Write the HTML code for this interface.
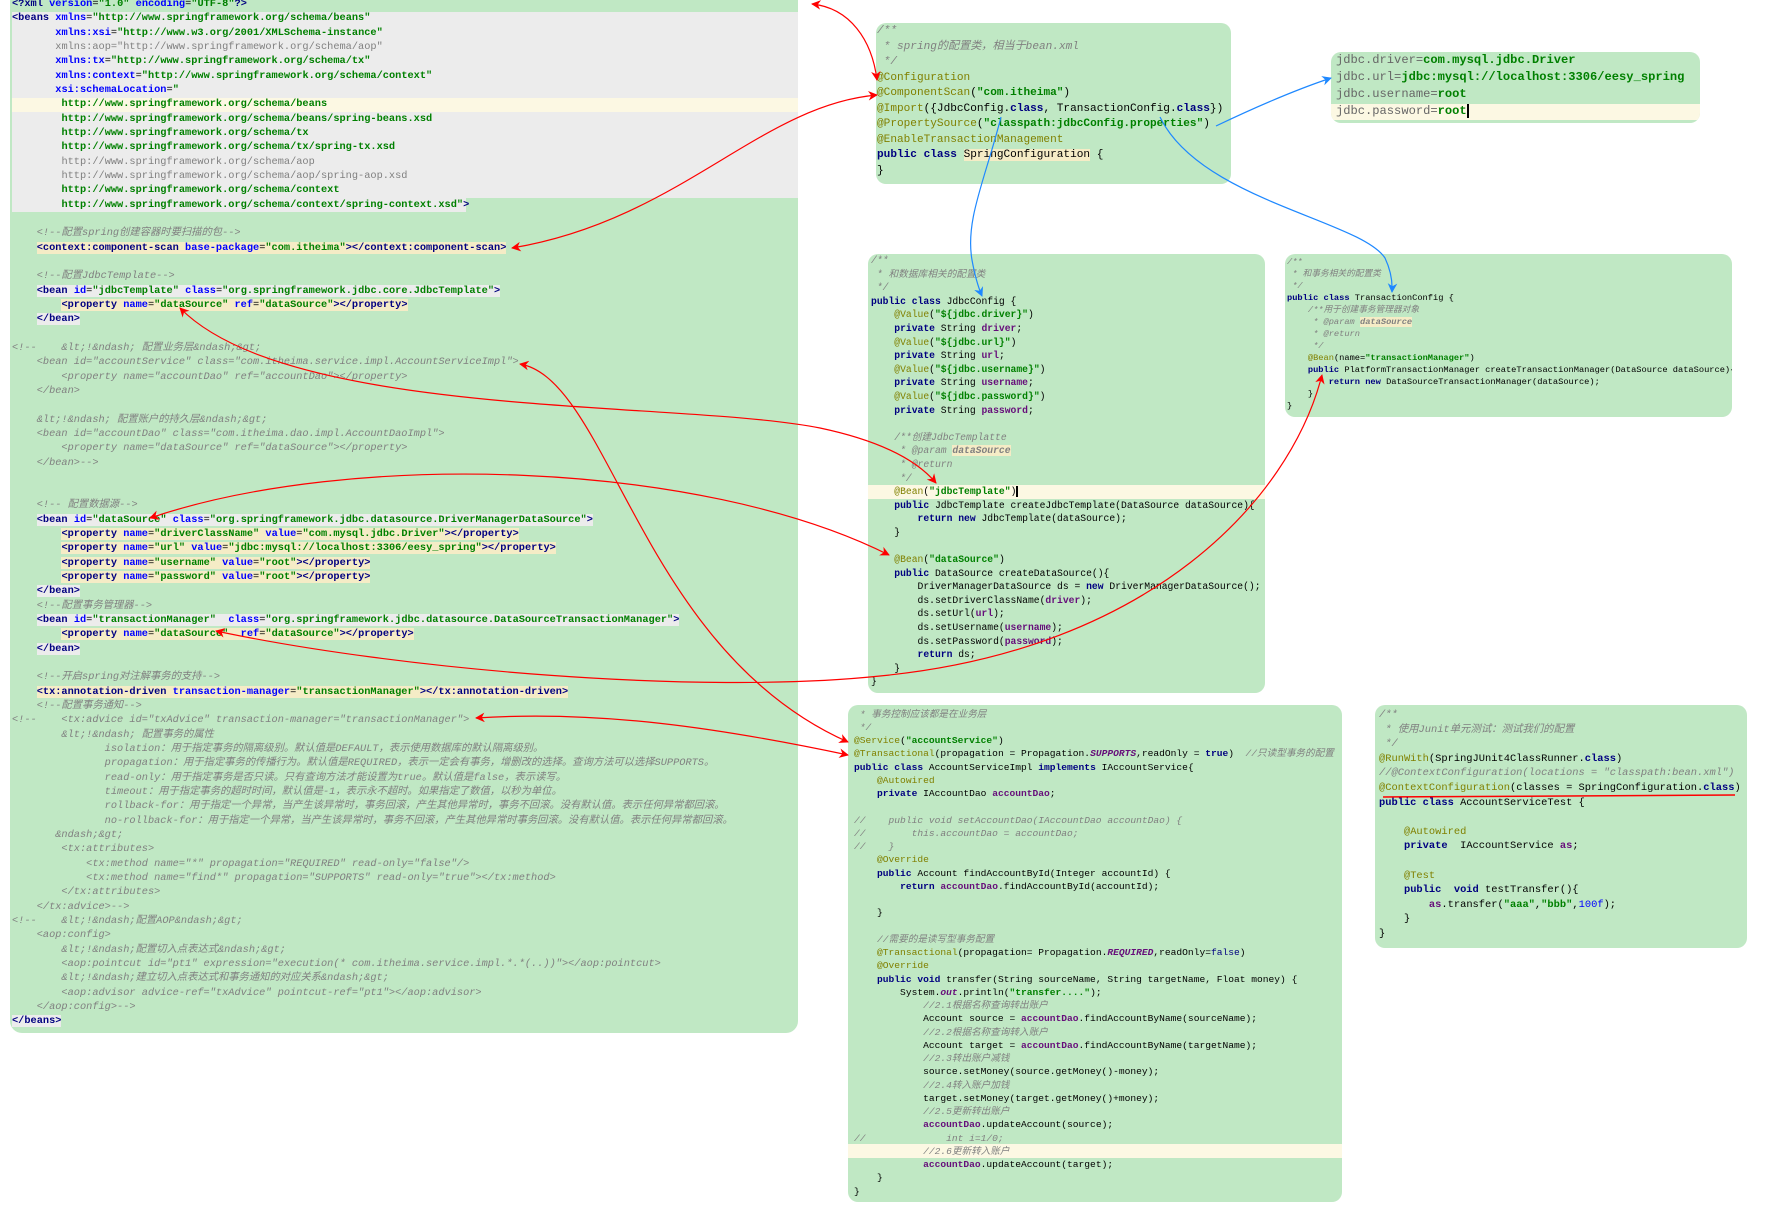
<!DOCTYPE html>
<html><head><meta charset="utf-8">
<style>
html,body{margin:0;padding:0;background:#fff;width:1779px;height:1205px;overflow:hidden;position:relative}
.p{position:absolute;background:#c0e8c4;border-radius:10px;overflow:hidden}
pre{position:absolute;margin:0;font-family:"Liberation Mono","Noto Sans CJK SC",monospace;color:#000;white-space:pre}
.t{color:#000080;font-weight:bold}
.a{color:#0000ff;font-weight:bold}
.v{color:#008000;font-weight:bold}
.c{color:#808080;font-style:italic}
.k{color:#000080;font-weight:bold}
.n{color:#808000}
.s{color:#008000;font-weight:bold}
.f{color:#660e7a;font-weight:bold}
.h{background:#f5ecc6}
.g{background:#ececec}
.y{position:absolute;background:#fcf8e3}
</style></head><body>

<!-- LEFT XML PANEL -->
<div class="p" style="left:10px;top:0;width:788px;height:1033px;border-radius:0 0 12px 12px">
<div style="position:absolute;left:2px;top:12px;width:786px;height:186px;background:#ececec"></div>
<div style="position:absolute;left:2px;top:198px;width:454px;height:14px;background:#ececec"></div>
<div class="y" style="left:2px;top:98px;width:786px;height:14px"></div>
<pre style="left:2px;top:-3px;font-size:10.3px;line-height:14.33px"><span class="t">&lt;?xml</span> <span class="a">version</span>=<span class="v">"1.0"</span> <span class="a">encoding</span>=<span class="v">"UTF-8"</span><span class="t">?&gt;</span>
<span class="t">&lt;beans</span> <span class="a">xmlns</span>=<span class="v">"http://www.springframework.org/schema/beans"</span>
       <span class="a">xmlns:xsi</span>=<span class="v">"http://www.w3.org/2001/XMLSchema-instance"</span>
       <span class="c" style="font-style:normal">xmlns:aop="http://www.springframework.org/schema/aop"</span>
       <span class="a">xmlns:tx</span>=<span class="v">"http://www.springframework.org/schema/tx"</span>
       <span class="a">xmlns:context</span>=<span class="v">"http://www.springframework.org/schema/context"</span>
       <span class="a">xsi:schemaLocation</span>=<span class="v">"</span>
        <span class="v">http://www.springframework.org/schema/beans</span>
        <span class="v">http://www.springframework.org/schema/beans/spring-beans.xsd</span>
        <span class="v">http://www.springframework.org/schema/tx</span>
        <span class="v">http://www.springframework.org/schema/tx/spring-tx.xsd</span>
        <span class="c" style="font-style:normal">http://www.springframework.org/schema/aop</span>
        <span class="c" style="font-style:normal">http://www.springframework.org/schema/aop/spring-aop.xsd</span>
        <span class="v">http://www.springframework.org/schema/context</span>
        <span class="v">http://www.springframework.org/schema/context/spring-context.xsd"</span><span class="t">&gt;</span>

    <span class="c">&lt;!--配置spring创建容器时要扫描的包--&gt;</span>
    <span class="h"><span class="t">&lt;context:component-scan</span> <span class="a">base-package</span>=<span class="v">"com.itheima"</span><span class="t">&gt;&lt;/context:component-scan&gt;</span></span>

    <span class="c">&lt;!--配置JdbcTemplate--&gt;</span>
    <span class="g"><span class="t">&lt;bean</span> <span class="a">id</span>=<span class="v">"jdbcTemplate"</span> <span class="a">class</span>=<span class="v">"org.springframework.jdbc.core.JdbcTemplate"</span><span class="t">&gt;</span></span>
        <span class="h"><span class="t">&lt;property</span> <span class="a">name</span>=<span class="v">"dataSource"</span> <span class="a">ref</span>=<span class="v">"dataSource"</span><span class="t">&gt;&lt;/property&gt;</span></span>
    <span class="g"><span class="t">&lt;/bean&gt;</span></span>

<span class="c">&lt;!--    &amp;lt;!&amp;ndash; 配置业务层&amp;ndash;&amp;gt;</span>
<span class="c">    &lt;bean id="accountService" class="com.itheima.service.impl.AccountServiceImpl"&gt;</span>
<span class="c">        &lt;property name="accountDao" ref="accountDao"&gt;&lt;/property&gt;</span>
<span class="c">    &lt;/bean&gt;</span>

<span class="c">    &amp;lt;!&amp;ndash; 配置账户的持久层&amp;ndash;&amp;gt;</span>
<span class="c">    &lt;bean id="accountDao" class="com.itheima.dao.impl.AccountDaoImpl"&gt;</span>
<span class="c">        &lt;property name="dataSource" ref="dataSource"&gt;&lt;/property&gt;</span>
<span class="c">    &lt;/bean&gt;--&gt;</span>


    <span class="c">&lt;!-- 配置数据源--&gt;</span>
    <span class="g"><span class="t">&lt;bean</span> <span class="a">id</span>=<span class="v">"dataSource"</span> <span class="a">class</span>=<span class="v">"org.springframework.jdbc.datasource.DriverManagerDataSource"</span><span class="t">&gt;</span></span>
        <span class="h"><span class="t">&lt;property</span> <span class="a">name</span>=<span class="v">"driverClassName"</span> <span class="a">value</span>=<span class="v">"com.mysql.jdbc.Driver"</span><span class="t">&gt;&lt;/property&gt;</span></span>
        <span class="h"><span class="t">&lt;property</span> <span class="a">name</span>=<span class="v">"url"</span> <span class="a">value</span>=<span class="v">"jdbc:mysql://localhost:3306/eesy_spring"</span><span class="t">&gt;&lt;/property&gt;</span></span>
        <span class="h"><span class="t">&lt;property</span> <span class="a">name</span>=<span class="v">"username"</span> <span class="a">value</span>=<span class="v">"root"</span><span class="t">&gt;&lt;/property&gt;</span></span>
        <span class="h"><span class="t">&lt;property</span> <span class="a">name</span>=<span class="v">"password"</span> <span class="a">value</span>=<span class="v">"root"</span><span class="t">&gt;&lt;/property&gt;</span></span>
    <span class="g"><span class="t">&lt;/bean&gt;</span></span>
    <span class="c">&lt;!--配置事务管理器--&gt;</span>
    <span class="g"><span class="t">&lt;bean</span> <span class="a">id</span>=<span class="v">"transactionManager"</span>  <span class="a">class</span>=<span class="v">"org.springframework.jdbc.datasource.DataSourceTransactionManager"</span><span class="t">&gt;</span></span>
        <span class="h"><span class="t">&lt;property</span> <span class="a">name</span>=<span class="v">"dataSource"</span>  <span class="a">ref</span>=<span class="v">"dataSource"</span><span class="t">&gt;&lt;/property&gt;</span></span>
    <span class="g"><span class="t">&lt;/bean&gt;</span></span>

    <span class="c">&lt;!--开启spring对注解事务的支持--&gt;</span>
    <span class="h"><span class="t">&lt;tx:annotation-driven</span> <span class="a">transaction-manager</span>=<span class="v">"transactionManager"</span><span class="t">&gt;&lt;/tx:annotation-driven&gt;</span></span>
    <span class="c">&lt;!--配置事务通知--&gt;</span>
<span class="c">&lt;!--    &lt;tx:advice id="txAdvice" transaction-manager="transactionManager"&gt;</span>
<span class="c">        &amp;lt;!&amp;ndash; 配置事务的属性</span>
<span class="c">               isolation：用于指定事务的隔离级别。默认值是DEFAULT，表示使用数据库的默认隔离级别。</span>
<span class="c">               propagation：用于指定事务的传播行为。默认值是REQUIRED，表示一定会有事务，增删改的选择。查询方法可以选择SUPPORTS。</span>
<span class="c">               read-only：用于指定事务是否只读。只有查询方法才能设置为true。默认值是false，表示读写。</span>
<span class="c">               timeout：用于指定事务的超时时间，默认值是-1，表示永不超时。如果指定了数值，以秒为单位。</span>
<span class="c">               rollback-for：用于指定一个异常，当产生该异常时，事务回滚，产生其他异常时，事务不回滚。没有默认值。表示任何异常都回滚。</span>
<span class="c">               no-rollback-for：用于指定一个异常，当产生该异常时，事务不回滚，产生其他异常时事务回滚。没有默认值。表示任何异常都回滚。</span>
<span class="c">       &amp;ndash;&amp;gt;</span>
<span class="c">        &lt;tx:attributes&gt;</span>
<span class="c">            &lt;tx:method name="*" propagation="REQUIRED" read-only="false"/&gt;</span>
<span class="c">            &lt;tx:method name="find*" propagation="SUPPORTS" read-only="true"&gt;&lt;/tx:method&gt;</span>
<span class="c">        &lt;/tx:attributes&gt;</span>
<span class="c">    &lt;/tx:advice&gt;--&gt;</span>
<span class="c">&lt;!--    &amp;lt;!&amp;ndash;配置AOP&amp;ndash;&amp;gt;</span>
<span class="c">    &lt;aop:config&gt;</span>
<span class="c">        &amp;lt;!&amp;ndash;配置切入点表达式&amp;ndash;&amp;gt;</span>
<span class="c">        &lt;aop:pointcut id="pt1" expression="execution(* com.itheima.service.impl.*.*(..))"&gt;&lt;/aop:pointcut&gt;</span>
<span class="c">        &amp;lt;!&amp;ndash;建立切入点表达式和事务通知的对应关系&amp;ndash;&amp;gt;</span>
<span class="c">        &lt;aop:advisor advice-ref="txAdvice" pointcut-ref="pt1"&gt;&lt;/aop:advisor&gt;</span>
<span class="c">    &lt;/aop:config&gt;--&gt;</span>
<span class="g"><span class="t">&lt;/beans&gt;</span></span></pre>
</div>

<!-- SPRING CONFIGURATION -->
<div class="p" style="left:876px;top:23px;width:355px;height:161px">
<pre style="left:1px;top:1px;font-size:11.1px;line-height:15.5px"><span class="c">/**</span>
<span class="c"> * spring的配置类，相当于bean.xml</span>
<span class="c"> */</span>
<span class="n">@Configuration</span>
<span class="n">@ComponentScan</span>(<span class="s">"com.itheima"</span>)
<span class="n">@Import</span>({JdbcConfig.<span class="k">class</span>, TransactionConfig.<span class="k">class</span>})
<span class="n">@PropertySource</span>(<span class="s">"classpath:jdbcConfig.properties"</span>)
<span class="n">@EnableTransactionManagement</span>
<span class="k">public class</span> <span class="h">SpringConfiguration</span> {
}</pre>
</div>

<!-- PROPERTIES -->
<div class="p" style="left:1331px;top:52px;width:369px;height:71px">
<div class="y" style="left:0;top:52px;width:369px;height:16px"></div>
<pre style="left:5px;top:0px;font-size:12.1px;line-height:17px"><span style="color:#666">jdbc.driver=</span><span class="s">com.mysql.jdbc.Driver</span>
<span style="color:#666">jdbc.url=</span><span class="s">jdbc:mysql://localhost:3306/eesy_spring</span>
<span style="color:#666">jdbc.username=</span><span class="s">root</span>
<span style="color:#666">jdbc.password=</span><span class="s">root</span><span style="border-left:2px solid #000"></span></pre>
</div>

<!-- JDBC CONFIG -->
<div class="p" style="left:868px;top:254px;width:397px;height:439px">
<div class="y" style="left:0;top:231px;width:397px;height:14px"></div>
<pre style="left:3px;top:0px;font-size:9.7px;line-height:13.6px"><span class="c">/**</span>
<span class="c"> * 和数据库相关的配置类</span>
<span class="c"> */</span>
<span class="k">public class</span> JdbcConfig {
    <span class="n">@Value</span>(<span class="s">"${jdbc.driver}"</span>)
    <span class="k">private</span> String <span class="f">driver</span>;
    <span class="n">@Value</span>(<span class="s">"${jdbc.url}"</span>)
    <span class="k">private</span> String <span class="f">url</span>;
    <span class="n">@Value</span>(<span class="s">"${jdbc.username}"</span>)
    <span class="k">private</span> String <span class="f">username</span>;
    <span class="n">@Value</span>(<span class="s">"${jdbc.password}"</span>)
    <span class="k">private</span> String <span class="f">password</span>;

    <span class="c">/**创建JdbcTemplatte</span>
<span class="c">     * @param </span><span class="h c" style="font-weight:bold">dataSource</span>
<span class="c">     * @return</span>
<span class="c">     */</span>
    <span class="n">@Bean</span>(<span class="s">"jdbcTemplate"</span>)<span style="border-left:2px solid #000"></span>
    <span class="k">public</span> JdbcTemplate createJdbcTemplate(DataSource dataSource){
        <span class="k">return new</span> JdbcTemplate(dataSource);
    }

    <span class="n">@Bean</span>(<span class="s">"dataSource"</span>)
    <span class="k">public</span> DataSource createDataSource(){
        DriverManagerDataSource ds = <span class="k">new</span> DriverManagerDataSource();
        ds.setDriverClassName(<span class="f">driver</span>);
        ds.setUrl(<span class="f">url</span>);
        ds.setUsername(<span class="f">username</span>);
        ds.setPassword(<span class="f">password</span>);
        <span class="k">return</span> ds;
    }
}</pre>
</div>

<!-- TRANSACTION CONFIG -->
<div class="p" style="left:1285px;top:254px;width:447px;height:163px">
<pre style="left:2px;top:2px;font-size:8.7px;line-height:12px"><span class="c">/**</span>
<span class="c"> * 和事务相关的配置类</span>
<span class="c"> */</span>
<span class="k">public class</span> TransactionConfig {
    <span class="c">/**用于创建事务管理器对象</span>
<span class="c">     * @param </span><span class="h c" style="font-weight:bold">dataSource</span>
<span class="c">     * @return</span>
<span class="c">     */</span>
    <span class="n">@Bean</span>(name=<span class="s">"transactionManager"</span>)
    <span class="k">public</span> PlatformTransactionManager createTransactionManager(DataSource dataSource){
        <span class="k">return new</span> DataSourceTransactionManager(dataSource);
    }
}</pre>
</div>

<!-- ACCOUNT SERVICE IMPL -->
<div class="p" style="left:848px;top:705px;width:494px;height:497px">
<div class="y" style="left:0;top:439px;width:494px;height:14px"></div>
<pre style="left:6px;top:2.5px;font-size:9.6px;line-height:13.25px"><span class="c"> * 事务控制应该都是在业务层</span>
<span class="c"> */</span>
<span class="n">@Service</span>(<span class="s">"accountService"</span>)
<span class="n">@Transactional</span>(propagation = Propagation.<span class="f" style="font-style:italic">SUPPORTS</span>,readOnly = <span class="k">true</span>)  <span class="c">//只读型事务的配置</span>
<span class="k">public class</span> AccountServiceImpl <span class="k">implements</span> IAccountService{
    <span class="n">@Autowired</span>
    <span class="k">private</span> IAccountDao <span class="f">accountDao</span>;

<span class="c">//    public void setAccountDao(IAccountDao accountDao) {</span>
<span class="c">//        this.accountDao = accountDao;</span>
<span class="c">//    }</span>
    <span class="n">@Override</span>
    <span class="k">public</span> Account findAccountById(Integer accountId) {
        <span class="k">return</span> <span class="f">accountDao</span>.findAccountById(accountId);

    }

    <span class="c">//需要的是读写型事务配置</span>
    <span class="n">@Transactional</span>(propagation= Propagation.<span class="f" style="font-style:italic">REQUIRED</span>,readOnly=<span class="k" style="font-weight:normal">false</span>)
    <span class="n">@Override</span>
    <span class="k">public void</span> transfer(String sourceName, String targetName, Float money) {
        System.<span class="f" style="font-style:italic">out</span>.println(<span class="s">"transfer...."</span>);
            <span class="c">//2.1根据名称查询转出账户</span>
            Account source = <span class="f">accountDao</span>.findAccountByName(sourceName);
            <span class="c">//2.2根据名称查询转入账户</span>
            Account target = <span class="f">accountDao</span>.findAccountByName(targetName);
            <span class="c">//2.3转出账户减钱</span>
            source.setMoney(source.getMoney()-money);
            <span class="c">//2.4转入账户加钱</span>
            target.setMoney(target.getMoney()+money);
            <span class="c">//2.5更新转出账户</span>
            <span class="f">accountDao</span>.updateAccount(source);
<span class="c">//              int i=1/0;</span>
            <span class="c">//2.6更新转入账户</span>
            <span class="f">accountDao</span>.updateAccount(target);
    }
}</pre>
</div>

<!-- TEST -->
<div class="p" style="left:1375px;top:705px;width:372px;height:243px">
<pre style="left:4px;top:3px;font-size:10.4px;line-height:14.6px"><span class="c">/**</span>
<span class="c"> * 使用Junit单元测试：测试我们的配置</span>
<span class="c"> */</span>
<span class="n">@RunWith</span>(SpringJUnit4ClassRunner.<span class="k">class</span>)
<span class="c">//@ContextConfiguration(locations = "classpath:bean.xml")</span>
<span class="n">@ContextConfiguration</span>(classes = SpringConfiguration.<span class="k">class</span>)
<span class="k">public class</span> AccountServiceTest {

    <span class="n">@Autowired</span>
    <span class="k">private</span>  IAccountService <span class="f">as</span>;

    <span class="n">@Test</span>
    <span class="k">public  void</span> testTransfer(){
        <span class="f">as</span>.transfer(<span class="s">"aaa"</span>,<span class="s">"bbb"</span>,<span style="color:#0000ff">100f</span>);
    }
}</pre>
</div>

<!-- CONNECTORS -->
<svg width="1779" height="1205" style="position:absolute;left:0;top:0" xmlns="http://www.w3.org/2000/svg">
<defs>
<marker id="r" viewBox="0 0 10 10" refX="9" refY="5" markerWidth="10" markerHeight="8" orient="auto-start-reverse"><path d="M0,0 L10,5 L0,10 L3,5 z" fill="#f00"/></marker>
<marker id="b" viewBox="0 0 10 10" refX="9" refY="5" markerWidth="10" markerHeight="8" orient="auto-start-reverse"><path d="M0,0 L10,5 L0,10 L3,5 z" fill="#1e88ff"/></marker>
</defs>
<g fill="none" stroke="#f00" stroke-width="1.2">
<path d="M812,4 C850,8 872,40 877,80" marker-start="url(#r)" marker-end="url(#r)"/>
<path d="M877,95 C760,105 680,220 512,248" marker-start="url(#r)" marker-end="url(#r)"/>
<path d="M180,308 C290,420 680,400 820,428 Q905,446 936,483" marker-start="url(#r)" marker-end="url(#r)"/>
<path d="M520,364 C610,380 640,650 848,742" marker-start="url(#r)" marker-end="url(#r)"/>
<path d="M150,518 C350,450 700,460 889,555" marker-start="url(#r)" marker-end="url(#r)"/>
<path d="M216,631 C400,670 700,695 880,676 C1150,650 1290,500 1322,375" marker-start="url(#r)" marker-end="url(#r)"/>
<path d="M476,718 C600,710 720,728 848,755" marker-start="url(#r)" marker-end="url(#r)"/>
<path d="M1383,797 L1735,795" stroke-width="1.5"/>
</g>
<g fill="none" stroke="#1e88ff" stroke-width="1.2">
<path d="M1216,126 C1260,105 1295,90 1331,78" marker-end="url(#b)"/>
<path d="M1001,117 C985,180 965,220 972,260 Q976,282 982,296" marker-end="url(#b)"/>
<path d="M1160,117 C1200,200 1360,220 1385,258 Q1393,275 1392,292" marker-end="url(#b)"/>
</g>
</svg>
</body></html>
